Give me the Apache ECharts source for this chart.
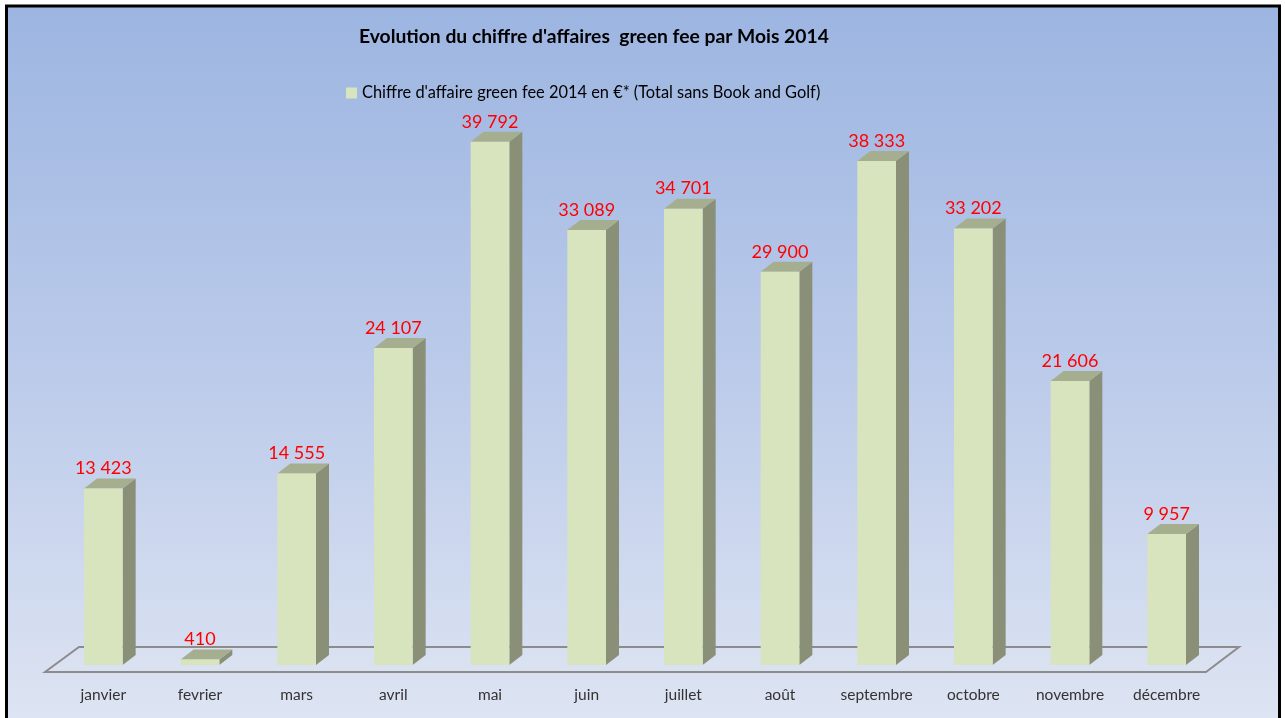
<!DOCTYPE html>
<html><head><meta charset="utf-8">
<script src="https://cdn.jsdelivr.net/npm/echarts@6/dist/echarts.min.js"></script>
<style>html,body{margin:0;padding:0;background:#fff}#c{width:1285px;height:718px}</style>
</head><body><div id="c"></div>
<script>
const months = ['janvier','fevrier','mars','avril','mai','juin','juillet','août','septembre','octobre','novembre','décembre'];
const revenue = [13423,410,14555,24107,39792,33089,34701,29900,38333,33202,21606,9957];
const seriesName = "Chiffre d'affaire green fee 2014 en €* (Total sans Book and Golf)";
const titleText = "Evolution du chiffre d'affaires  green fee par Mois 2014";

const FONT = 'Lato, "Open Sans", sans-serif';
const fmt = v => String(v).replace(/\B(?=(\d{3})+(?!\d))/g, ' ');

function renderBar(params, api) {
  const idx = api.value(0), v = api.value(1);
  const top = api.coord([idx, v]);
  const base = api.coord([idx, 0]);
  const bw = api.size([1, 0])[0] * 0.40;
  const x0 = top[0] - bw / 2, x1 = top[0] + bw / 2;
  const dx = 13, dy = 10;
  const yT = top[1], yB = base[1];
  return {
    type: 'group',
    children: [
      { type: 'polygon', shape: { points: [[x1, yT], [x1 + dx, yT - dy], [x1 + dx, yB - dy], [x1, yB]] }, style: { fill: '#8a9077' } },
      { type: 'polygon', shape: { points: [[x0, yT], [x0 + dx, yT - dy], [x1 + dx, yT - dy], [x1, yT]] }, style: { fill: '#a5ae8f' } },
      { type: 'rect', shape: { x: x0, y: yT, width: bw, height: yB - yT }, style: { fill: '#d7e4bd' } },
      { type: 'text', x: top[0], y: yT - dy - 1, style: { text: fmt(v), fill: '#ff0000', font: '18px ' + FONT, align: 'center', verticalAlign: 'bottom' } }
    ]
  };
}

function renderFloor(params, api) {
  const cs = params.coordSys;
  const base = api.coord([0, 0])[1];
  const L = cs.x, R = cs.x + cs.width;
  return {
    type: 'polygon',
    shape: { points: [[L - 10, base + 7], [L + 24, base - 18], [R + 24, base - 18], [R - 9, base + 7]] },
    style: { fill: 'rgba(255,255,255,0.05)', stroke: '#8c8c8c', lineWidth: 2 }
  };
}

const chart = echarts.init(document.getElementById('c'), null, { renderer: 'canvas' });
chart.setOption({
  backgroundColor: '#ffffff',
  animation: false,
  graphic: [{
    type: 'rect', z: -100, silent: true,
    shape: { x: 6.5, y: 6, width: 1273, height: 740 },
    style: {
      fill: new echarts.graphic.LinearGradient(0, 0, 0, 1, [
        { offset: 0, color: '#9cb5e1' },
        { offset: 0.5, color: '#bccbea' },
        { offset: 1, color: '#e0e6f3' }
      ]),
      stroke: '#000', lineWidth: 3
    }
  }],
  title: {
    text: titleText, left: 354, top: 22,
    textStyle: { fontFamily: FONT, fontSize: 19.3, fontWeight: 'bold', color: '#000' }
  },
  legend: {
    left: 341, top: 80, icon: 'rect', itemWidth: 11, itemHeight: 11, itemGap: 6,
    data: [seriesName],
    textStyle: { fontFamily: FONT, fontSize: 16.4, color: '#000' }
  },
  grid: { left: 55, right: 70, top: 139, bottom: 53 },
  xAxis: {
    type: 'category', data: months,
    axisLine: { show: false }, axisTick: { show: false }, splitLine: { show: false },
    axisLabel: { color: '#333', fontFamily: FONT, fontSize: 15.5, margin: 22 }
  },
  yAxis: { type: 'value', min: 0, max: 40000, show: false, splitLine: { show: false } },
  series: [
    { type: 'custom', name: 'floor', renderItem: renderFloor, data: [[0]], z: 1, silent: true, encode: { x: 0 } },
    {
      type: 'custom', name: seriesName, renderItem: renderBar, z: 2,
      itemStyle: { color: '#d7e4bd' },
      encode: { x: 0, y: 1 },
      data: revenue.map((v, i) => [i, v])
    }
  ]
});
</script></body></html>
